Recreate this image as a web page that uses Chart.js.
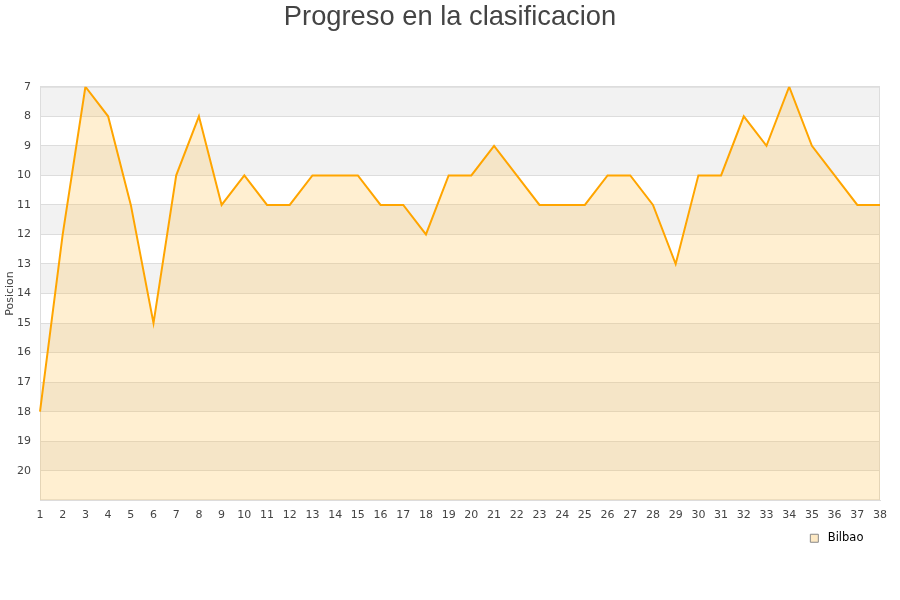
<!DOCTYPE html>
<html>
<head>
<meta charset="utf-8">
<script src="https://cdn.jsdelivr.net/npm/chart.js@4/dist/chart.umd.min.js"></script>
<style>
  body { margin: 0; background: #fff; }
  #wrap { width: 900px; height: 600px; }
</style>
</head>
<body>
<div id="wrap"><canvas id="chart"></canvas></div>
<script>
const jornadas = ["1","2","3","4","5","6","7","8","9","10","11","12","13","14","15","16","17","18","19","20",
                  "21","22","23","24","25","26","27","28","29","30","31","32","33","34","35","36","37","38"];
const posicionBilbao = [18, 12, 7, 8, 11, 15, 10, 8, 11, 10, 11, 11, 10, 10, 10, 11, 11, 12, 10, 10,
                        9, 10, 11, 11, 11, 10, 10, 11, 13, 10, 10, 8, 9, 7, 9, 10, 11, 11];
const posMin = 7;
const posMax = 21;

// alternate grey/white bands behind the plot
const bandsPlugin = {
    id: "bands",
    beforeDraw(chart) {
        const ctx = chart.ctx;
        const area = chart.chartArea;
        const y = chart.scales.y;
        ctx.save();
        for (let v = posMin; v < posMax; v++) {
            if ((v - posMin) % 2 === 0) {
                const top = y.getPixelForValue(v);
                const bot = y.getPixelForValue(v + 1);
                ctx.fillStyle = "#f2f2f2";
                ctx.fillRect(area.left, top, area.right - area.left, bot - top);
            }
        }
        ctx.strokeStyle = "#dddddd";
        ctx.lineWidth = 1;
        ctx.strokeRect(area.left + 0.5, area.top + 0.5, area.right - area.left - 1, area.bottom - area.top - 1);
        ctx.restore();
    }
};

new Chart(document.getElementById("chart").getContext("2d"), {
    type: "line",
    data: {
        labels: jornadas,
        datasets: [{
            label: "Bilbao",
            data: posicionBilbao,
            borderColor: "#ffa500",
            backgroundColor: "rgba(255, 190, 70, 0.25)",
            borderWidth: 2,
            pointRadius: 0,
            tension: 0,
            fill: "start"
        }]
    },
    options: {
        responsive: true,
        maintainAspectRatio: false,
        animation: false,
        layout: { padding: { left: 0, right: 0, top: 0, bottom: 46 } },
        plugins: {
            title: {
                display: true,
                text: "Progreso en la clasificacion",
                color: "#444",
                font: { family: "Liberation Sans, Arial, sans-serif", size: 27.3, weight: "normal" },
                padding: { top: 1, bottom: 53 }
            },
            legend: {
                position: "bottom",
                align: "end",
                labels: {
                    color: "#000",
                    font: { family: "DejaVu Sans", size: 11.5 },
                    boxWidth: 8,
                    boxHeight: 8,
                    padding: 11,
                    generateLabels(chart) {
                        return [{
                            text: " Bilbao       ",
                            fillStyle: "#fde9c4",
                            strokeStyle: "#888",
                            lineWidth: 1,
                            datasetIndex: 0
                        }];
                    }
                }
            },
            tooltip: { enabled: false }
        },
        scales: {
            x: {
                offset: false,
                afterFit(scale) { scale.paddingRight = 20; },
                grid: { display: false },
                border: { display: true, color: "#ddd" },
                ticks: {
                    color: "#444",
                    font: { family: "DejaVu Sans", size: 11 },
                    maxRotation: 0,
                    autoSkip: false,
                    padding: 0
                }
            },
            y: {
                reverse: true,
                min: posMin,
                max: posMax,
                afterFit(scale) { scale.width = 40; },
                grid: { color: "#dddddd", drawTicks: false },
                border: { display: false },
                title: {
                    display: true,
                    text: "Posicion",
                    color: "#444",
                    font: { family: "DejaVu Sans", size: 11 },
                    padding: { top: 4, bottom: 0 }
                },
                ticks: {
                    stepSize: 1,
                    color: "#444",
                    font: { family: "DejaVu Sans", size: 11 },
                    padding: 9,
                    callback: v => (v === posMax ? "" : v)
                }
            }
        }
    },
    plugins: [bandsPlugin]
});
</script>
</body>
</html>
